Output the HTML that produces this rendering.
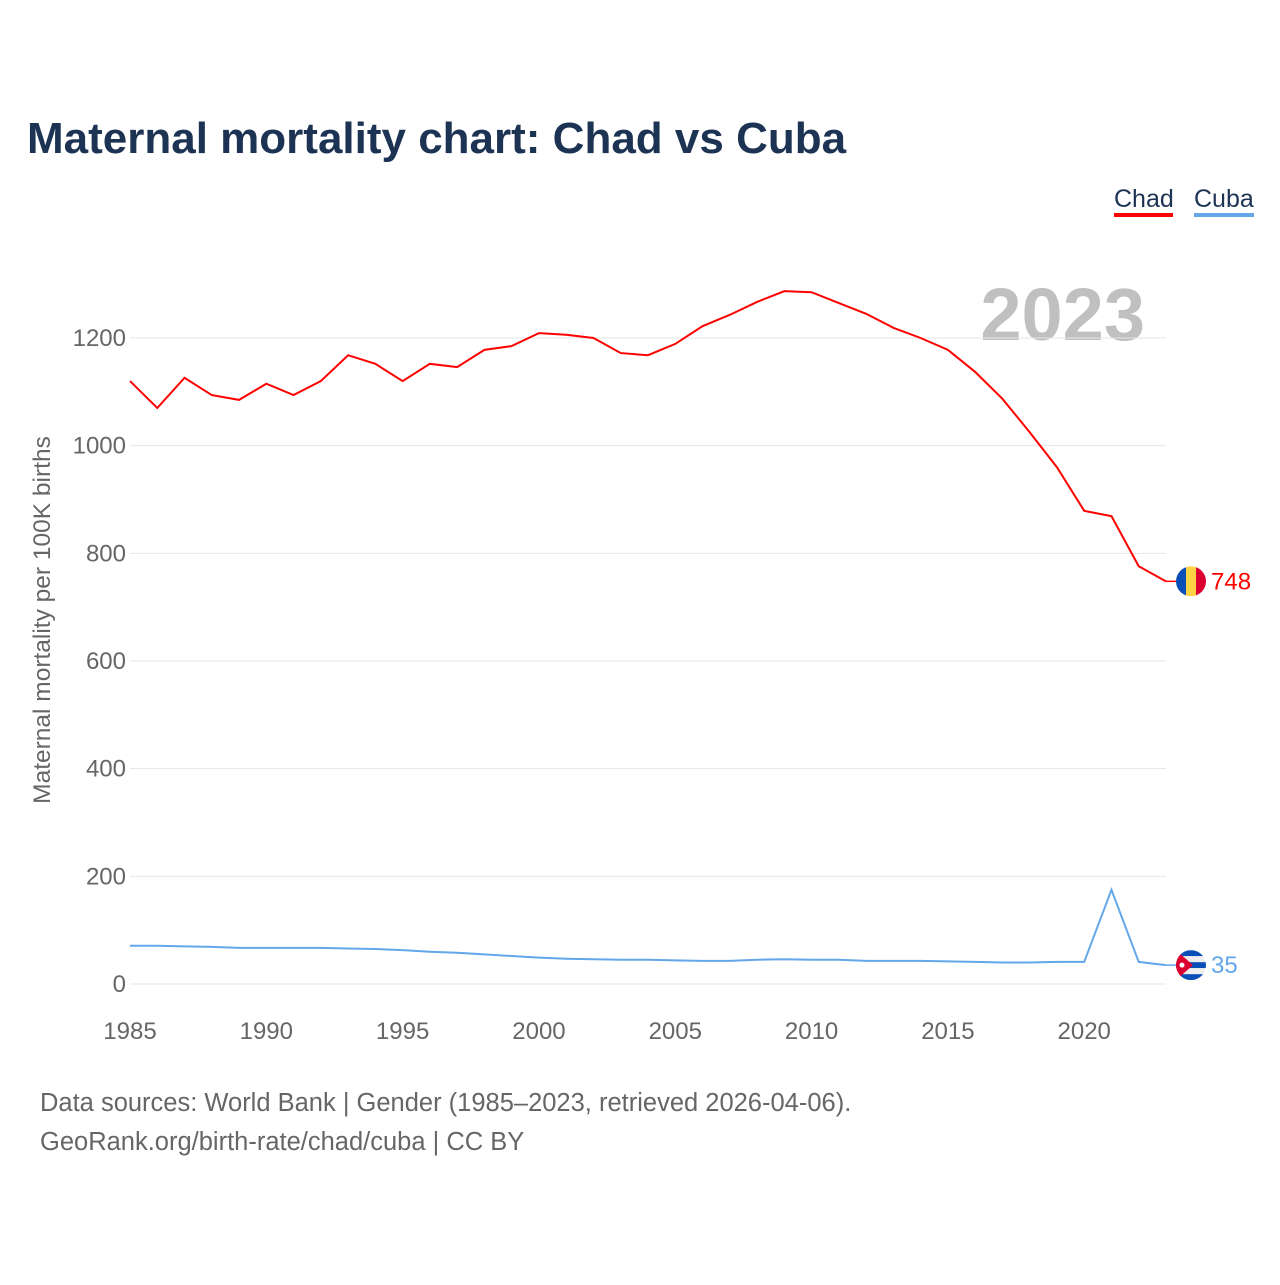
<!DOCTYPE html>
<html><head><meta charset="utf-8"><style>
body{margin:0;background:#fff;font-family:"Liberation Sans",sans-serif;}
svg text{font-family:"Liberation Sans",sans-serif;}
</style></head><body>
<svg width="1280" height="1280" id="c">
<text x="27" y="153" font-size="44" font-weight="bold" fill="#1c3353">Maternal mortality chart: Chad vs Cuba</text>
<g>
<text x="1114" y="207" font-size="25" fill="#1c3353">Chad</text>
<rect x="1114" y="213" width="59" height="4" fill="#ff0000"/>
<text x="1194" y="207" font-size="25" fill="#1c3353">Cuba</text>
<rect x="1194" y="213" width="60" height="4" fill="#63a6ea"/>
</g>
<text x="1145" y="340" font-size="74" font-weight="bold" fill="#c0c0c0" text-anchor="end">2023</text>
<g id="grid"></g><g id="xt"></g><g id="lines"></g>
<text transform="translate(50,620) rotate(-90)" font-size="24.5" fill="#666" text-anchor="middle">Maternal mortality per 100K births</text>
<text x="40" y="1111" font-size="25.5" fill="#666">Data sources: World Bank | Gender (1985–2023, retrieved 2026-04-06).</text>
<text x="40" y="1150" font-size="25.5" fill="#666">GeoRank.org/birth-rate/chad/cuba | CC BY</text>
</svg>
<script>
const years=[1985,1986,1987,1988,1989,1990,1991,1992,1993,1994,1995,1996,1997,1998,1999,2000,2001,2002,2003,2004,2005,2006,2007,2008,2009,2010,2011,2012,2013,2014,2015,2016,2017,2018,2019,2020,2021,2022,2023];
const chad=[1120,1070,1126,1094,1085,1115,1094,1120,1168,1152,1120,1152,1146,1178,1185,1209,1206,1200,1172,1168,1189,1222,1243,1267,1287,1285,1265,1245,1219,1200,1178,1137,1087,1025,960,879,869,776,748];
const cuba=[71,71,70,69,67,67,67,67,66,65,63,60,58,55,52,49,47,46,45,45,44,43,43,45,46,45,45,43,43,43,42,41,40,40,41,41,175,41,35];
const yTicks=[0,200,400,600,800,1000,1200];
const xTicks=[1985,1990,1995,2000,2005,2010,2015,2020];
const NS="http://www.w3.org/2000/svg";
const x=v=>130+(v-1985)*(1166-130)/38;
const y=v=>984-v*(984-338)/1200;
function mk(t,a,p){const e=document.createElementNS(NS,t);for(const k in a)e.setAttribute(k,a[k]);p.appendChild(e);return e;}
const g=document.getElementById('grid');
yTicks.forEach(v=>{
 const l=mk('line',{x1:130,x2:1166,y1:y(v),y2:y(v),stroke:'#e6e6e6','stroke-width':1},g);
 
 
 const t=mk('text',{x:126,y:y(v)+8,'font-size':24,fill:'#666','text-anchor':'end'},g);
 t.textContent=v;
 
 
});
const xt=document.getElementById('xt');
xTicks.forEach(v=>{
 const t=mk('text',{x:x(v),y:1039,'font-size':24,fill:'#666','text-anchor':'middle'},xt);
 t.textContent=v;
 
 
});
const L=document.getElementById('lines');
function series(d,col,name){
 const p=mk('polyline',{points:d.map((v,i)=>x(years[i])+','+y(v)).join(' '),fill:'none',stroke:col,'stroke-width':2},L);
 
 
 const ly=y(d[d.length-1]);
 const s=mk('line',{x1:1166,x2:1176,y1:ly,y2:ly,stroke:col,'stroke-width':1.5},L);
 
 
 const t=mk('text',{x:1211,y:ly+8,'font-size':24,fill:col},L);
 t.textContent=d[d.length-1];
 
 
 return ly;
}
const cy=series(chad,'#ff0000','chad');
const uy=series(cuba,'#63a6ea','cuba');
const defs=mk('defs',{},L);
const c1=mk('clipPath',{id:'f1'},defs);mk('circle',{cx:1191,cy:cy,r:15},c1);
const c2=mk('clipPath',{id:'f2'},defs);mk('circle',{cx:1191,cy:uy,r:15},c2);
const fc=mk('g',{'clip-path':'url(#f1)'},L);


mk('rect',{x:1176,y:cy-15,width:10,height:30,fill:'#0a4fb8'},fc);
mk('rect',{x:1186,y:cy-15,width:10,height:30,fill:'#fdd343'},fc);
mk('rect',{x:1196,y:cy-15,width:11,height:30,fill:'#dc0030'},fc);
const fu=mk('g',{'clip-path':'url(#f2)'},L);


for(let i=0;i<5;i++)mk('rect',{x:1176,y:uy-15+i*6,width:30,height:6,fill:i%2?'#eee':'#0a4fb8'},fu);
mk('polygon',{points:`1176,${uy-15} 1193,${uy} 1176,${uy+15}`,fill:'#dc0030'},fu);
mk('circle',{cx:1182,cy:uy,r:2.5,fill:'#fff'},fu);
</script>
</body></html>
